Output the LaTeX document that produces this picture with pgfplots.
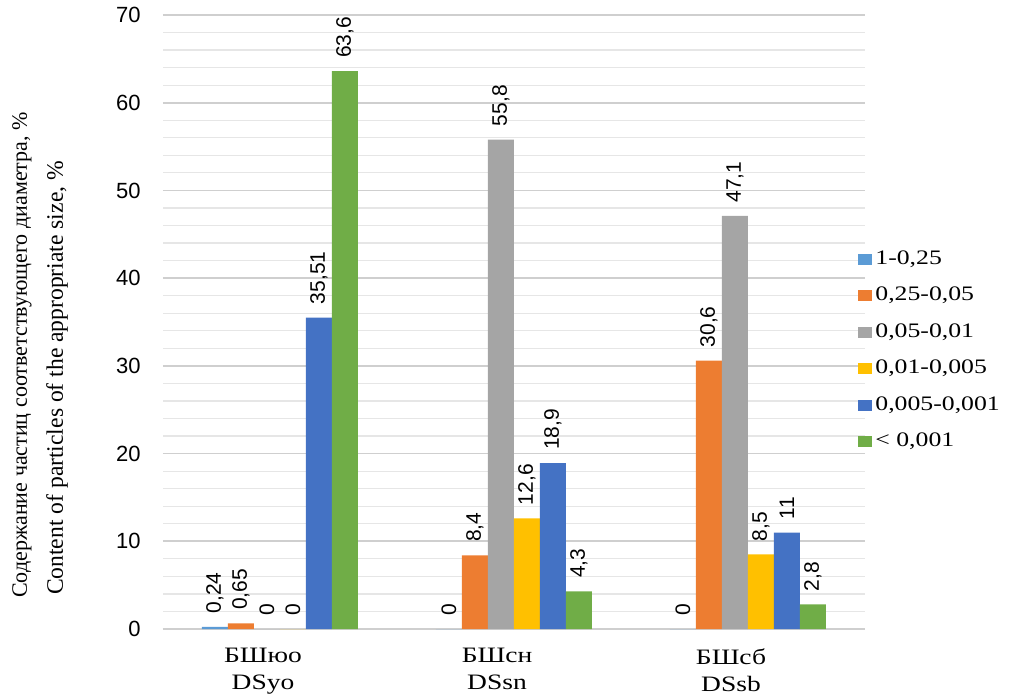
\documentclass[border=0pt]{standalone}
\usepackage{pgfplots}
\pgfplotsset{compat=1.18}
\usepackage{fontspec}
\setmainfont{Liberation Serif}[FakeStretch=1.25]
\newfontfamily\serifn{Liberation Serif}
\newfontfamily\sansf{Liberation Sans}
\definecolor{cA}{HTML}{5B9BD5}
\definecolor{cB}{HTML}{ED7D31}
\definecolor{cC}{HTML}{A5A5A5}
\definecolor{cD}{HTML}{FFC000}
\definecolor{cE}{HTML}{4472C4}
\definecolor{cF}{HTML}{70AD47}
\definecolor{gridmaj}{HTML}{CFCFCF}
\definecolor{gridmin}{HTML}{E6E6E6}
\begin{document}
\begin{tikzpicture}
\path[use as bounding box] (-81.5pt,-34.5pt) rectangle (425.5pt,314.5pt);
\begin{axis}[
  at={(0,0)}, anchor=south west,
  width=351pt, height=307pt, scale only axis,
  ybar=0pt, bar width=13pt,
  xmin=-0.5, xmax=2.5, ymin=0, ymax=70,
  xtick={0,1,2},
  xticklabels={{БШюо\\DSyo},{БШсн\\DSsn},{БШсб\\DSsb}},
  xticklabel style={align=center, font=\fontsize{11}{13.5}\selectfont, anchor=north, inner sep=0pt, xshift=-8.5pt, yshift=-9.5pt},
  ytick={0,10,...,70},
  minor y tick num=4,
  ymajorgrids, yminorgrids,
  major grid style={draw=gridmaj, line width=0.8pt},
  minor grid style={draw=gridmin, line width=0.6pt},
  separate axis lines,
  axis x line*=bottom, axis y line*=left,
  x axis line style={-, draw=gridmaj, line width=0.8pt},
  y axis line style={draw=none},
  tick style={draw=none},
  major tick length=0pt, minor tick length=0pt,
  yticklabel style={font=\sansf\fontsize{11}{13}\selectfont, inner sep=0pt},
  yticklabel shift=11pt,
  /pgf/number format/assume math mode=true,
  nodes near coords={\pgfmathprintnumber[use comma, assume math mode=true]{\pgfplotspointmeta}},
  every node near coord/.append style={font=\sansf\fontsize{10.5}{12}\selectfont, rotate=90, anchor=west, inner xsep=6.5pt, inner ysep=0pt, black},
  legend style={at={(0.99,0.4537)}, anchor=west, draw=none, fill=none,
    font=\fontsize{10.3}{12}\selectfont, row sep=7.25pt, column sep=0.5pt, inner sep=0pt,
    nodes={inner sep=1pt, text height=7pt, text depth=2pt}},
  legend cell align=left,
  legend image code/.code={\fill[#1] (0pt,-2.75pt) rectangle (7pt,2.75pt);},
]
\addplot[fill=cA, draw=none] coordinates {(0,0.24) (1,0) (2,0)};
\addlegendentry{1-0,25}
\addplot[fill=cB, draw=none] coordinates {(0,0.65) (1,8.4) (2,30.6)};
\addlegendentry{0,25-0,05}
\addplot[fill=cC, draw=none] coordinates {(0,0) (1,55.8) (2,47.1)};
\addlegendentry{0,05-0,01}
\addplot[fill=cD, draw=none] coordinates {(0,0) (1,12.6) (2,8.5)};
\addlegendentry{0,01-0,005}
\addplot[fill=cE, draw=none] coordinates {(0,35.51) (1,18.9) (2,11)};
\addlegendentry{0,005-0,001}
\addplot[fill=cF, draw=none] coordinates {(0,63.6) (1,4.3) (2,2.8)};
\addlegendentry{< 0,001}
\end{axis}
\node[rotate=90, font=\serifn\fontsize{11}{13}\selectfont] at (-70.5pt,137pt) {Содержание частиц соответствующего диаметра, \%};
\node[rotate=90, font=\serifn\fontsize{11.8}{13}\selectfont] at (-53pt,125.5pt) {Content of particles of the appropriate size, \%};
\end{tikzpicture}
\end{document}
